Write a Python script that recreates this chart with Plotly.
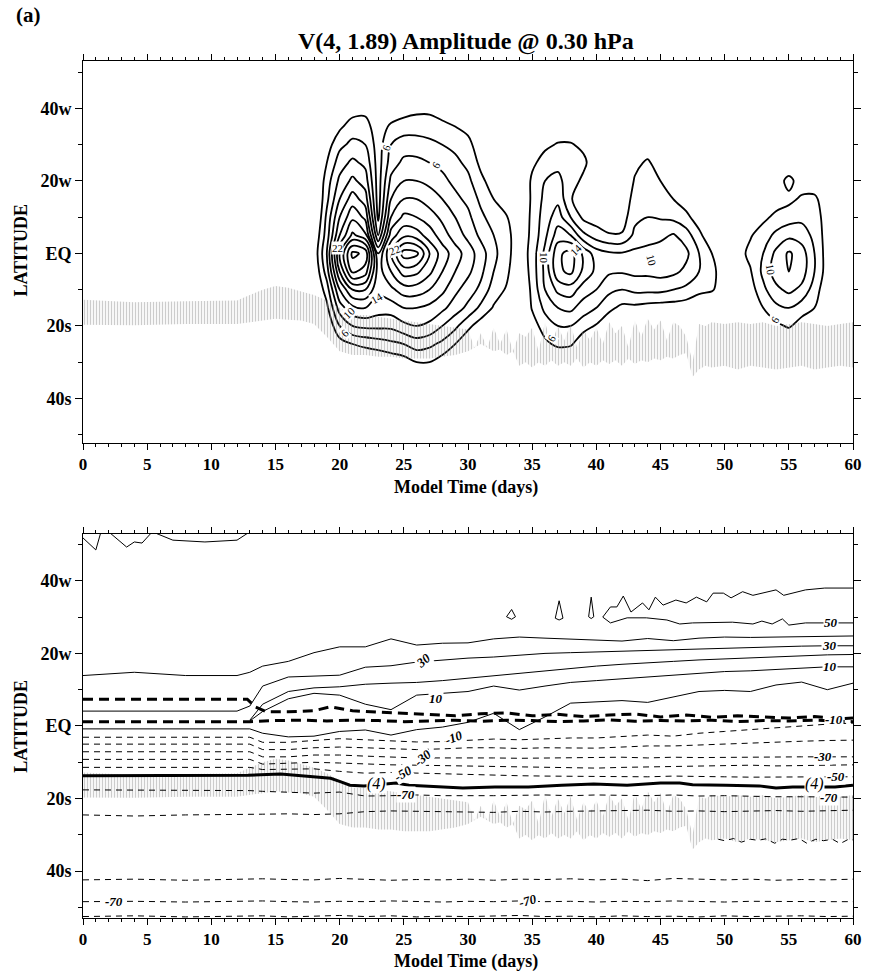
import numpy as np
import plotly.graph_objects as go

# ---------------- top panel: wave amplitude (m/s) on a day x latitude grid ----------------
amp_lats = [45, 40, 35, 30, 25, 20, 15, 10, 5, 0, -5, -10, -15, -20, -25, -30, -35]
amp_days = list(range(16, 61))
# one latitude profile (45N ... 35S) per model day, days 16..60
amp_by_day = [
    [2, 2, 2, 2, 2, 2, 2, 2, 2, 2, 2, 2, 2, 2, 2, 2, 2],                      # 16
    [2, 2, 2, 2, 2, 2, 2, 2, 2.5, 3, 2.5, 2, 2, 2, 2, 2, 2],                  # 17
    [2, 2, 2, 3, 3, 3, 3, 3, 4, 4.5, 4, 3.5, 3, 2.5, 2, 2, 2],                # 18
    [2, 3, 4, 5, 6, 7, 7.5, 8.5, 9, 10, 9, 7, 5.5, 4, 3, 2, 2],               # 19
    [2, 4, 5.6, 7.5, 9, 10.5, 12, 14, 16, 20, 18, 14, 11, 8, 5, 3, 2],        # 20
    [2.5, 5, 7, 8.5, 10.5, 12.5, 15, 17.5, 20.5, 26.5, 24.5, 18, 13.5, 10, 6, 3.5, 2],  # 21
    [2.5, 5.2, 7, 8, 9.5, 11, 13, 15.5, 18.5, 25.5, 23, 18, 14, 10.5, 6.5, 4, 2],       # 22
    [2, 3, 4.5, 5, 5, 5, 5, 5.5, 8, 14, 15, 14.5, 13, 10.5, 7, 4, 2],         # 23
    [2, 4, 6.5, 8, 9, 10.5, 12, 14, 17, 20, 18, 15.5, 13, 10.5, 7.5, 4.5, 2], # 24
    [2.5, 5, 7, 9, 10.5, 12, 14, 16.5, 19.5, 25, 21, 17, 14, 11.5, 8, 5, 2.5],          # 25
    [2.5, 5.5, 7, 9, 10.5, 12, 14, 16, 19, 24.5, 20.5, 17, 14, 12, 9, 6, 3],            # 26
    [3, 5.5, 7, 8.5, 10, 11.5, 13, 15, 17, 20, 18.5, 16, 13.5, 11.5, 8.5, 6, 3],        # 27
    [3, 5, 6.5, 8, 9.5, 10.5, 12, 13.5, 15, 17, 16, 14.5, 12.5, 10, 7.5, 5, 2.5],       # 28
    [2.5, 4.5, 6, 7.5, 8.5, 9.5, 10.5, 12, 13, 15, 14, 12.5, 11, 8.5, 6, 4, 2],         # 29
    [2, 4, 5.5, 6.5, 7.5, 8.5, 9.5, 10.5, 11.5, 13, 12.5, 11, 9.5, 6.5, 4.5, 3, 2],     # 30
    [2, 3, 4, 5, 5.5, 6.5, 7.5, 8.5, 9.5, 11, 10.5, 9.5, 7.5, 5, 3.5, 2.5, 2],          # 31
    [2, 2.5, 3, 3.5, 4, 5, 6, 7, 8, 8.5, 8, 7, 5.8, 4, 3, 2, 2],              # 32
    [2, 2, 2.5, 3, 3, 3.5, 4.5, 6.2, 6.8, 6.8, 6.5, 5.8, 4.5, 3, 2.5, 2, 2],  # 33
    [2, 2, 2, 2.5, 2.5, 3, 3, 4, 4.5, 4.5, 4, 3.5, 3, 2.5, 2, 2, 2],          # 34
    [2, 2, 3, 4, 5.5, 6.5, 6.5, 6.5, 6.5, 6.8, 6.8, 6.5, 6.2, 5, 3.5, 2.5, 2],          # 35
    [2, 2.5, 4, 5.5, 7, 8, 8.5, 9, 9.5, 10.5, 10.5, 10, 8.5, 7, 5.5, 3, 2],             # 36
    [2, 3, 4.5, 6.2, 7.5, 8.5, 9.5, 11, 13, 15.5, 15.5, 12.5, 10, 8, 6.5, 3.5, 2],      # 37
    [2, 3, 4.5, 6.2, 7.5, 7, 6.2, 8, 12, 16.8, 16.5, 13, 10.5, 8, 6.3, 3.5, 2],         # 38
    [2, 2.5, 4, 5.5, 6.5, 5.5, 4.5, 5.5, 8.5, 13.5, 13.5, 11, 9, 6.8, 4.5, 3, 2],       # 39
    [2, 2, 3, 4, 4.5, 4.5, 4.5, 5, 7, 11, 11.5, 10, 8, 5.8, 4, 2.5, 2],       # 40
    [2, 2, 2.5, 3.5, 4, 4, 4, 4.5, 6.2, 10.3, 10.3, 8.5, 6.5, 4.5, 3, 2.5, 2],          # 41
    [2, 2, 2.5, 3, 3.5, 4, 4.5, 5, 6.2, 10.2, 10.2, 8, 5.5, 4, 3, 2.5, 2],    # 42
    [2, 2.5, 3.5, 4.5, 5.5, 6.2, 6.8, 7.5, 8.5, 10.5, 10.5, 8.5, 5.5, 4, 3, 2, 2],      # 43
    [2, 2.5, 3.5, 4.8, 6.3, 7, 7.5, 8, 9, 10.8, 10.5, 8.5, 5.2, 3.5, 2.5, 2, 2],        # 44
    [2, 2, 3, 4, 5, 6, 6.8, 7.8, 9.5, 11, 10.8, 8.5, 5, 3.5, 2.5, 2, 2],      # 45
    [2, 2, 2.5, 3, 4, 5, 6, 7.5, 10.2, 11, 10.5, 8, 5, 3.5, 2.5, 2, 2],       # 46
    [2, 2, 2, 2.5, 3, 4, 5, 6.5, 9, 10.5, 9.5, 7.5, 4.8, 3, 2.5, 2, 2],       # 47
    [2, 2, 2, 2, 2.5, 3, 4, 5, 6.5, 8, 8, 6.5, 4.5, 3, 2, 2, 2],              # 48
    [2, 2, 2, 2, 2, 2.5, 3, 3.5, 4.5, 6, 6.5, 6.2, 4, 2.5, 2, 2, 2],          # 49
    [2, 2, 2, 2, 2, 2, 2.5, 3, 3.5, 4.5, 5, 5, 3.5, 2.5, 2, 2, 2],            # 50
    [2, 2, 2, 2, 2, 2, 2.5, 3, 4, 5, 5, 4.5, 3.5, 2.5, 2, 2, 2],              # 51
    [2, 2, 2, 2, 2.5, 3, 3.5, 4.5, 5.8, 6.6, 5.8, 5, 4, 3, 2, 2, 2],          # 52
    [2, 2, 2, 2, 3, 3.5, 4.5, 5.5, 7, 8, 8.5, 7.5, 6, 4, 2.5, 2, 2],          # 53
    [2, 2, 2.5, 3, 5, 5, 5, 6.5, 8.5, 10.5, 11, 9.5, 7.5, 5.5, 3, 2, 2],      # 54
    [2, 2, 2.5, 3, 4.5, 6.6, 5.5, 7, 9.5, 12.3, 12, 10.5, 8, 6.3, 3.5, 2, 2], # 55
    [2, 2, 2, 2.5, 3.5, 5, 6.3, 7.5, 9, 11, 11, 9.5, 7, 5, 3, 2, 2],          # 56
    [2, 2, 2.5, 3, 3.5, 4.5, 6.5, 7, 7.5, 8, 8, 7, 6, 4, 2.5, 2, 2],          # 57
    [2, 2, 2, 2.5, 3, 3.5, 4.5, 5, 5, 5, 5, 4.5, 4, 3, 2, 2, 2],              # 58
    [2, 2, 2, 2, 2, 2.5, 3, 3, 3, 3, 3, 3, 2.5, 2, 2, 2, 2],                  # 59
    [2, 2, 2, 2, 2, 2, 2, 2, 2, 2, 2, 2, 2, 2, 2, 2, 2],                      # 60
]
amp_levels = dict(start=6, end=26, size=2)

# contour labels of the amplitude panel: (day, lat, text, angle)
amp_labels = [
    (23.6, 29.2, "6", -70), (27.5, 24.4, "6", -60), (19.8, 1.5, "22", 0),
    (24.3, 1.0, "22", -20), (22.9, -12.3, "14", -30), (20.7, -16.3, "10", -45),
    (20.4, -22.0, "6", -45), (36.5, -23.2, "6", -60), (35.9, -1.2, "10", 90),
    (38.4, 1.0, "14", -45), (44.3, -1.8, "10", 75), (53.6, -4.5, "10", 80),
    (53.9, -18.3, "6", -60),
]

# ---------------- shaded (stippled) region, shared by both panels ----------------
stip_day = [0, 4, 8, 12, 13, 14, 15, 16, 17, 18, 19, 20, 21, 22, 23, 24, 25, 26, 27, 28,
            29, 30, 30.5, 31, 31.5, 32, 32.5, 33, 33.5, 34, 34.5, 35, 35.5, 36, 36.5, 37,
            37.5, 38, 38.5, 39, 39.5, 40, 40.5, 41, 41.5, 42, 42.5, 43, 43.5, 44, 44.5,
            45, 45.5, 46, 46.5, 47, 47.5, 48, 48.5, 49, 50, 51, 52, 53, 54, 55, 56, 57,
            58, 59, 60]
stip_top = [-12.8, -13.5, -13.2, -13, -11.5, -10, -9, -9.5, -10.5, -11.5, -13, -15, -17, -17,
            -17.5, -18, -18.5, -19, -19.5, -20, -20.5, -21, -26, -22, -26, -20.5, -25, -21,
            -27, -22, -23, -20.5, -27, -19, -25, -20, -24, -19.5, -26, -21, -24, -20.5, -25,
            -19, -22, -20, -26, -18.5, -23, -18, -21, -18.5, -24, -19, -20, -23, -30, -19.5,
            -20, -19, -19.5, -19, -19.5, -19, -20, -19.5, -19, -19.5, -20, -19.5, -19]
stip_bot = [-19.7, -19.8, -19.5, -19.5, -19, -18.5, -18, -18.3, -18.5, -19.5, -23, -27, -28,
            -28, -28.5, -28.5, -29, -29, -29, -28.5, -28, -27, -26, -25, -26, -27, -26.5, -28,
            -27, -31, -30, -31.5, -30, -31, -29.5, -31, -30, -31, -29, -31.5, -30, -31, -29.5,
            -30.5, -29.5, -31, -29, -30.5, -29.5, -30, -29, -29.5, -28.5, -29, -28, -27.5,
            -34, -32, -31, -31.5, -31, -32, -31, -31.5, -32, -31.5, -31, -32, -31.5, -31, -31.5]

# ---------------- bottom panel: zonal-mean wind isotachs (m/s), latitude vs day ----------------
bday = [0, 4, 8, 12, 13, 14, 16, 18, 20, 22, 24, 26, 28, 30, 32, 34, 36, 38, 40, 42, 44, 46,
        48, 50, 52, 54, 56, 58, 60]
iso_40 = [13.9, 14.8, 13.9, 13.9, 14.8, 16.5, 17.8, 20.2, 21.8, 21.8, 24.0, 22.3, 22.8, 22.9,
          24.0, 24.5, 24.2, 24.0, 23.7, 23.4, 24.1, 23.5, 24.2, 24.5, 24.4, 24.5, 24.6, 24.8, 24.8]
iso_30 = [4.1, 4.1, 4.1, 4.1, 5.5, 11.0, 13.5, 13.8, 14.0, 16.2, 16.6, 17.6, 18.2, 18.7, 19.0,
          19.5, 20.0, 20.2, 20.4, 20.7, 20.9, 21.2, 21.4, 21.5, 21.7, 21.8, 22.0, 22.1, 22.1]
iso_0 = [-0.8, -0.8, -0.8, -0.8, -0.8, -2.0, -3.0, -2.8, -1.5, -1.1, -2.5, -1.0, -0.3, 1.0, 3.5,
         -1.0, 2.5, 6.3, 6.6, 7.0, 6.5, 8.0, 9.5, 9.8, 9.5, 11.3, 12.1, 10.0, 11.8]
iso_m10 = [-3.1, -3.1, -3.1, -3.1, -3.1, -4.5, -4.5, -4.0, -3.5, -3.8, -4.2, -4.4, -4.3, -4.0,
           -3.6, -3.8, -3.5, -3.3, -3.3, -3.0, -2.5, -2.8, -2.0, -1.5, -1.0, -0.5, 0.0, 0.5, 0.8]
iso_m20 = [-5.0, -5.0, -5.0, -5.0, -5.0, -6.5, -6.5, -6.0, -5.8, -6.0, -6.3, -6.5, -6.3, -6.0,
           -6.0, -6.2, -6.0, -6.1, -6.1, -5.8, -5.5, -5.5, -5.2, -5.0, -4.8, -4.5, -4.2, -4.0, -3.9]
iso_m30 = [-7.1, -7.1, -7.1, -7.1, -7.1, -8.5, -8.5, -8.0, -8.0, -8.3, -8.6, -8.8, -8.8, -8.7,
           -8.8, -8.9, -8.8, -8.8, -8.8, -8.6, -8.8, -8.6, -8.7, -8.6, -8.5, -8.6, -8.5, -8.5, -8.5]
iso_m40 = [-9.2, -9.2, -9.2, -9.2, -9.2, -10.5, -10.3, -10.0, -10.2, -10.5, -10.7, -10.8, -10.9,
           -11.0, -11.2, -11.3, -11.4, -11.5, -11.6, -11.4, -11.3, -11.2, -11.0, -11.0, -10.8,
           -11.0, -10.9, -10.8, -10.7]
iso_m50 = [-11.4, -11.4, -11.4, -11.4, -11.4, -12.0, -12.0, -11.8, -12.5, -13.0, -12.8, -13.0,
           -13.2, -13.5, -13.6, -13.7, -13.8, -13.9, -14.0, -14.0, -14.0, -13.8, -14.0, -14.0,
           -14.1, -14.0, -14.0, -14.0, -14.0]
iso_m70n = [-17.6, -17.6, -17.6, -17.6, -17.8, -18.0, -18.2, -18.5, -18.2, -19.3, -19.2, -19.0,
            -19.2, -19.3, -19.2, -19.1, -19.0, -19.2, -19.0, -19.1, -19.2, -19.0, -19.3, -19.2,
            -19.4, -19.5, -19.5, -19.6, -19.6]
iso_m80n = [-24.5, -24.8, -24.5, -24.5, -24.5, -24.3, -24.2, -24.4, -24.2, -23.6, -23.4, -23.5,
            -23.4, -23.6, -23.8, -23.5, -23.7, -23.5, -23.4, -23.5, -23.2, -23.5, -23.4, -23.6,
            -23.5, -23.3, -23.5, -23.3, -23.2]
iso_m80s = [-42.4, -42.2, -42.5, -42.2, -42.3, -42.1, -42.3, -42.4, -42.0, -42.2, -42.5, -42.3,
            -42.4, -42.2, -42.5, -42.2, -42.3, -42.1, -42.4, -42.2, -42.6, -42.0, -42.3, -42.4,
            -42.2, -42.5, -42.3, -42.4, -42.2]
iso_m70s = [-48.4, -48.3, -48.5, -48.3, -48.4, -48.2, -48.4, -48.5, -48.3, -48.4, -48.2, -48.4,
            -48.5, -48.3, -48.4, -48.2, -48.4, -48.3, -48.5, -48.3, -48.4, -48.2, -48.4, -48.5,
            -48.3, -48.4, -48.3, -48.4, -48.4]
iso_m60s = [-52.5, -52.3, -52.6, -52.4, -52.5, -52.3, -52.6, -52.4, -52.2, -52.5, -52.3, -52.6,
            -52.4, -52.5, -52.3, -52.2, -52.5, -52.4, -52.6, -52.3, -52.5, -52.4, -52.6, -52.3,
            -52.5, -52.4, -52.3, -52.5, -52.4]

iso_20_day = [13, 14, 16, 18, 20, 22, 24, 26, 28, 30, 32, 34, 36, 38, 40, 42, 44, 46, 48, 50,
              52, 54, 56, 58, 60]
iso_20 = [1.6, 6.0, 9.5, 10.5, 10.8, 11.5, 11.8, 12.0, 12.5, 13.2, 13.8, 14.5, 15.2, 16.0, 16.5,
          17.0, 17.5, 17.8, 18.2, 18.5, 18.8, 19.0, 19.3, 19.6, 19.7]
iso_10 = [1.4, 4.0, 7.5, 9.0, 8.5, 6.0, 4.5, 8.5, 9.0, 9.5, 11.0, 9.9, 11.0, 12.0, 12.5, 13.0,
          13.5, 14.0, 14.5, 15.0, 15.2, 15.6, 16.0, 16.3, 16.3]

iso_50a_day = [0, 1, 1.4, 2.0, 3.4, 4.0, 4.6, 5.4, 7.0, 9.5, 12.0, 13.0]
iso_50a = [51.8, 48.5, 53.5, 53.5, 49.3, 50.7, 50.4, 53.5, 51.2, 50.7, 51.2, 53.5]
iso_50b_day = [60, 57.8, 56.3, 54.6, 54.0, 52.2, 51.4, 50.5, 49.9, 49.1, 48.6, 47.8, 47.0, 46.2,
               45.2, 44.6, 44.1, 43.6, 42.7, 42.1, 41.6, 41.1, 40.5, 41.1, 42.4, 43.9, 45.5,
               46.5, 47.5, 49.1, 50.6, 52.2, 52.9, 53.7, 54.5, 55.0, 56.3, 58.3, 60]
iso_50b = [38.0, 38.0, 37.5, 36.0, 37.5, 36.0, 37.0, 35.3, 36.6, 36.6, 34.2, 35.5, 33.9, 34.7,
           33.3, 35.5, 32.0, 33.9, 31.4, 35.8, 32.8, 32.8, 30.0, 28.4, 29.8, 29.8, 29.2, 28.1,
           28.4, 28.4, 28.6, 28.1, 28.9, 28.1, 29.5, 27.8, 28.4, 28.4, 28.4]
iso_50_islands = [
    ([33.0, 33.4, 33.7, 33.4, 33.0], [30.1, 32.1, 30.1, 29.4, 30.1]),
    ([36.8, 37.1, 37.4, 37.1, 36.8], [29.7, 34.5, 29.7, 29.2, 29.7]),
    ([39.4, 39.6, 39.8, 39.6, 39.4], [30.1, 35.5, 30.1, 29.6, 30.1]),
]
iso_m90_day = [49.5, 50, 50.7, 51.3, 52, 52.6, 53.2, 53.9, 54.5, 55.2, 55.8, 56.4, 57.1, 57.7,
               58.4, 59, 59.6, 60]
iso_m90 = [-31.2, -31.6, -31.0, -32.0, -31.2, -31.5, -31.1, -32.3, -31.2, -31.4, -31.0, -32.3,
           -31.2, -31.6, -31.2, -32.4, -31.3, -31.4]

# critical line of wave 4 and the two zero lines
crit_day = [0, 12.85, 15.4, 18, 19.3, 20.1, 20.8, 21.9, 24.4, 25.4, 28.3, 29.6, 32.1, 34.7, 37.3,
            39.8, 42.4, 45, 46.5, 47.5, 50.1, 52.7, 54, 55.3, 58.6, 60]
crit_lat = [-13.7, -13.6, -13.2, -14.0, -14.4, -15.4, -16.3, -16.5, -15.7, -16.3, -16.8, -17.1,
            -16.8, -16.8, -16.3, -16.0, -16.3, -15.7, -15.7, -16.2, -16.3, -16.5, -17.1, -16.8,
            -16.8, -16.3]
zl1_day = [0, 12.8, 13.4, 14.3, 16, 18, 19.3, 21, 23, 25, 27, 29, 31, 33, 35, 37, 39, 41, 43, 45,
           47, 49, 51, 53, 55, 57, 59, 60]
zl1_lat = [7.4, 7.4, 5.3, 3.9, 3.9, 4.2, 5.3, 4.2, 3.8, 3.6, 3.2, 2.8, 3.4, 3.6, 2.8, 3.2, 2.6,
           3.0, 3.3, 2.5, 3.0, 2.4, 2.8, 2.5, 2.2, 2.6, 2.0, 2.2]
zl2_day = [0, 13, 15, 17, 19, 21, 23, 25, 27, 29, 31, 33, 35, 37, 39, 41, 43, 45, 47, 49, 51, 53,
           55, 57, 59, 60]
zl2_lat = [1.2, 1.2, 1.5, 1.6, 1.4, 1.6, 1.5, 1.2, 1.4, 1.6, 1.3, 1.6, 1.5, 1.2, 1.4, 1.7, 1.3,
           1.5, 1.4, 1.6, 1.2, 1.5, 1.4, 1.6, 1.3, 1.2]

# isotach labels: (day, lat, level, angle)
wind_labels = [
    (58.3, 28.4, 50, 0), (26.5, 18.0, 30, -40), (58.2, 22.1, 30, 0), (27.5, 7.6, 10, 0),
    (58.2, 16.3, 10, 0), (28.9, -3.3, -10, -20), (58.5, 1.8, -10, 0), (26.5, -8.8, -30, -40),
    (57.7, -8.5, -30, 0), (24.9, -13.0, -50, -30), (58.7, -14.0, -50, 0), (25.2, -19.0, -70, 0),
    (58.1, -19.6, -70, 0), (2.4, -48.4, -70, 0), (34.7, -48.2, -70, -15),
]
crit_labels = [(22.9, -16.0, "(4)"), (57.0, -16.0, "(4)")]

# ---------------- figure ----------------
SERIF = "Liberation Serif"
fig = go.Figure()

def add_stipple(xa, ya):
    fig.add_trace(go.Scatter(
        x=stip_day + stip_day[::-1], y=stip_top + stip_bot[::-1],
        xaxis=xa, yaxis=ya, mode="lines", fill="toself",
        fillcolor="rgba(0,0,0,0)", line=dict(width=0),
        fillpattern=dict(shape="|", fgcolor="#9a9a9a", bgcolor="rgba(255,255,255,0)",
                         size=3, solidity=0.45),
        hoverinfo="skip", showlegend=False))

add_stipple("x", "y")
add_stipple("x2", "y2")

z = np.array(amp_by_day, dtype=float).T[::-1]          # rows: latitude ascending
fig.add_trace(go.Contour(
    x=amp_days, y=amp_lats[::-1], z=z, xaxis="x", yaxis="y",
    contours=dict(coloring="none", **amp_levels),
    line=dict(color="black", width=1.8), showscale=False, hoverinfo="skip"))

def add_line(days, lats, dash="solid", width=1.0):
    fig.add_trace(go.Scatter(
        x=days, y=lats, xaxis="x2", yaxis="y2", mode="lines",
        line=dict(color="black", width=width, dash=dash),
        hoverinfo="skip", showlegend=False))

THIN_DASH = "6px,5px"
add_line(iso_50a_day, iso_50a)
add_line(iso_50b_day, iso_50b)
for dx, dy in iso_50_islands:
    add_line(dx, dy)
add_line(bday, iso_40)
add_line(bday, iso_30)
add_line(iso_20_day, iso_20)
add_line(iso_20_day, iso_10)
add_line(bday, iso_0)
for arr in (iso_m10, iso_m20, iso_m30, iso_m40, iso_m50, iso_m70n, iso_m80n, iso_m80s,
            iso_m70s, iso_m60s):
    add_line(bday, arr, dash=THIN_DASH)
add_line(iso_m90_day, iso_m90, dash=THIN_DASH)
add_line(zl1_day, zl1_lat, dash="10px,6px", width=3)
add_line(zl2_day, zl2_lat, dash="10px,6px", width=3)
add_line(crit_day, crit_lat, width=3)

annotations = []
for d, la, txt, ang in amp_labels:
    annotations.append(dict(x=d, y=la, xref="x", yref="y", text=txt, showarrow=False,
                            textangle=ang, bgcolor="white", borderpad=0,
                            font=dict(family=SERIF, size=11, color="black")))
for d, la, lev, ang in wind_labels:
    annotations.append(dict(x=d, y=la, xref="x2", yref="y2", text=f"<i>{lev}</i>",
                            showarrow=False, textangle=ang, bgcolor="white", borderpad=0,
                            font=dict(family=SERIF, size=13, color="black", weight="bold")))
for d, la, txt in crit_labels:
    annotations.append(dict(x=d, y=la, xref="x2", yref="y2", text=f"<i>{txt}</i>",
                            showarrow=False, bgcolor="white", borderpad=0,
                            font=dict(family=SERIF, size=16, color="black")))

# titles and axis captions (positions in paper units of the 873x972 page)
bold = dict(family=SERIF, color="black", weight="bold")
caption = dict(xref="paper", yref="paper", showarrow=False, xanchor="center", yanchor="middle")
annotations += [
    dict(caption, x=-0.0899, y=1.0537, text="(a)", xanchor="left", font=dict(size=21, **bold)),
    dict(caption, x=0.498, y=1.0222, text="V(4, 1.89) Amplitude @ 0.30 hPa",
         font=dict(size=24, **bold)),
    dict(caption, x=0.497, y=0.5018, text="Model Time (days)", font=dict(size=18, **bold)),
    dict(caption, x=0.497, y=-0.0513, text="Model Time (days)", font=dict(size=18, **bold)),
    dict(caption, x=-0.081, y=0.7795, text="LATITUDE", textangle=-90,
         font=dict(size=18, **bold)),
    dict(caption, x=-0.081, y=0.224, text="LATITUDE", textangle=-90,
         font=dict(size=18, **bold)),
]

xax = dict(range=[0, 60], tickvals=list(range(0, 61, 5)), ticks="outside", ticklen=6,
           tickwidth=1, tickcolor="black", showline=True, linecolor="black", linewidth=1,
           mirror="allticks", showgrid=False, zeroline=False,
           tickfont=dict(size=17, **bold),
           minor=dict(dtick=1, ticks="outside", ticklen=3, tickcolor="black", showgrid=False))
yax = dict(tickvals=[-40, -20, 0, 20, 40], ticktext=["40s", "20s", "EQ", "20w", "40w"],
           ticks="outside", ticklen=7, tickwidth=1, tickcolor="black", showline=True,
           linecolor="black", linewidth=1, mirror="allticks", showgrid=False, zeroline=False,
           tickfont=dict(size=18, **bold),
           minor=dict(tickvals=[-50, -30, -10, 10, 30, 50], ticks="outside", ticklen=4,
                      tickcolor="black", showgrid=False))

fig.update_layout(
    width=873, height=972, margin=dict(l=83, r=11, t=61, b=54),
    paper_bgcolor="white", plot_bgcolor="white", showlegend=False,
    xaxis=dict(**xax, domain=[0, 1], anchor="y"),
    yaxis=dict(**yax, domain=[0.5543, 1.0], range=[-52.3, 53.1], anchor="x"),
    xaxis2=dict(**xax, domain=[0, 1], anchor="y2"),
    yaxis2=dict(**yax, domain=[0.0, 0.4481], range=[-52.9, 52.9], anchor="x2"),
    annotations=annotations,
)

fig.write_html("out.html")
